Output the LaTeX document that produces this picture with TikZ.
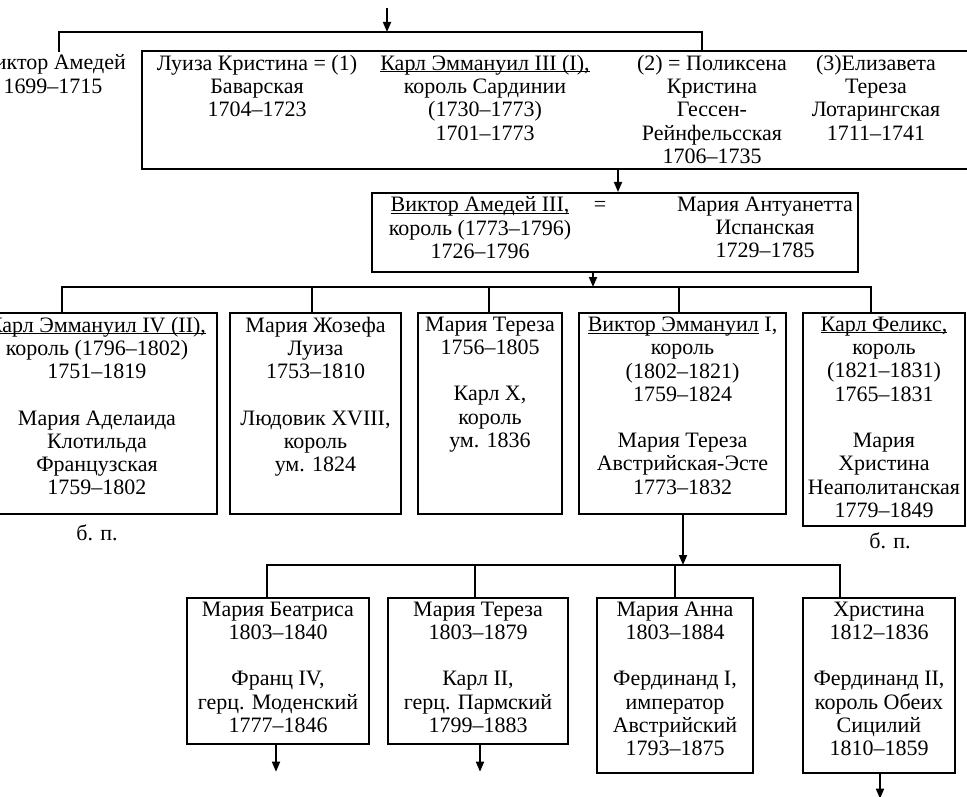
\documentclass[tikz,border=0pt]{standalone}
\usepackage{fontspec}
\setmainfont{Liberation Serif}
\usetikzlibrary{arrows.meta}
\newcommand{\ulname}[1]{\underline{\raisebox{0pt}[\height][0pt]{#1}}}

\begin{document}
\begin{tikzpicture}[x=1pt,y=-1pt,>={Stealth[length=10pt,width=8pt,inset=0pt]},
  line width=1.7pt,
  font=\fontsize{22}{23.3}\selectfont,
  famb/.style={draw,line width=1.7pt,inner sep=0pt,anchor=north},
  famt/.style={anchor=north,align=center,inner sep=0pt,yshift=-4pt},
  bp/.style={inner sep=1pt}]
  \useasboundingbox (0,0) rectangle (967,797);
  \clip (0,0) rectangle (967,797);

  % generation of Charles Emmanuel III
  \node[anchor=north,align=center,inner sep=2pt] (vaold) at (53,52) {Виктор Амедей\\1699–1715};
  \node[famb,minimum width=835,minimum height=118] (kfam) at (559.5,50) {};
  \node[famt] (kluiza) at (257,50) {Луиза Кристина = (1)\\Баварская\\1704–1723};
  \node[famt] (ke3) at (485,50) {\ulname{Карл Эммануил III (I),}\\король Сардинии\\(1730–1773)\\1701–1773};
  \node[famt] (kpol) at (712,50) {(2) = Поликсена\\Кристина\\Гессен-\\Рейнфельсская\\1706–1735};
  \node[famt] (keliz) at (876,50) {(3)Елизавета\\Тереза\\Лотарингская\\1711–1741};

  % Victor Amadeus III
  \node[famb,minimum width=486,minimum height=79] (va3) at (615,192) {};
  \node[famt] (va3-l) at (480,192) {\ulname{Виктор Амедей III,}\\король (1773–1796)\\1726–1796};
  \node[famt] (va3-eq) at (600,192) {\vphantom{Виктор Амедей III,}=};
  \node[famt] (va3-r) at (765,192) {Мария Антуанетта\\Испанская\\1729–1785};

  % children and grandchildren
  \foreach \nm/\xc/\yt/\w/\h/\txt in {%
    ke4/97/312/240/201/{\ulname{Карл Эммануил IV (II),}\\король (1796–1802)\\1751–1819\\[23pt]Мария Аделаида\\Клотильда\\Французская\\1759–1802},
    mjl/315.5/312/171/201/{Мария Жозефа\\Луиза\\1753–1810\\[23pt]Людовик XVIII,\\король\\ум. 1824},
    mt1/490/312/144/201/{Мария Тереза\\1756–1805\\[23pt]Карл X,\\король\\ум. 1836},
    ve1/682.5/312/207/201/{\ulname{Виктор Эммануил} I,\\король\\(1802–1821)\\1759–1824\\[23pt]Мария Тереза\\Австрийская-Эсте\\1773–1832},
    kf/884/312/162/213/{\ulname{Карл Феликс,}\\король\\(1821–1831)\\1765–1831\\[23pt]Мария\\Христина\\Неаполитанская\\1779–1849},
    mb/278/597/182/146/{Мария Беатриса\\1803–1840\\[23pt]Франц IV,\\герц. Моденский\\1777–1846},
    mt2/478/597/180/146/{Мария Тереза\\1803–1879\\[23pt]Карл II,\\герц. Пармский\\1799–1883},
    ma/675/597/156/175/{Мария Анна\\1803–1884\\[23pt]Фердинанд I,\\император\\Австрийский\\1793–1875},
    hr/879/597/152/175/{Христина\\1812–1836\\[23pt]Фердинанд II,\\король Обеих\\Сицилий\\1810–1859}%
  }{%
    \node[famb,minimum width=\w,minimum height=\h] (\nm) at (\xc,\yt) {};
    \node[famt] (\nm-t) at (\nm.north) {\txt};
  }
  \node[bp] (bp1) at (97,533) {б. п.};
  \node[bp] (bp2) at (890,541) {б. п.};

  % connectors
  \coordinate (topin) at (387,8);
  \coordinate (topbar) at (387,32);
  \coordinate (kbar) at (702,32);
  \draw[->] (topin) -- (topbar);
  \draw (vaold.north -| 59,0) |- (kbar) -- (kbar |- kfam.north);
  \coordinate (kdown) at (618,0);
  \draw[->] (kfam.south -| kdown) -- (va3.north -| kdown);
  \coordinate (bar3) at (593,287);
  \draw[->] (va3.south -| bar3) -- (bar3);
  \foreach \nm/\xx in {ke4/62, mjl/312, mt1/489, ve1/679, kf/871}{%
    \coordinate (tmp) at (\xx,0);
    \draw (\nm.north -| tmp) |- (bar3);
  }
  \coordinate (bar4) at (683,565);
  \draw[->] (ve1.south -| bar4) -- (bar4);
  \foreach \nm/\xx in {mb/267, mt2/475, ma/675, hr/840}{%
    \coordinate (tmp) at (\xx,0);
    \draw (\nm.north -| tmp) |- (bar4);
  }
  \foreach \nm/\xx/\len in {mb/276/27, mt2/480/27, hr/880/25}{%
    \coordinate (tmp) at (\xx,0);
    \draw[->] (\nm.south -| tmp) -- ++(0,\len);
  }
\end{tikzpicture}
\end{document}
